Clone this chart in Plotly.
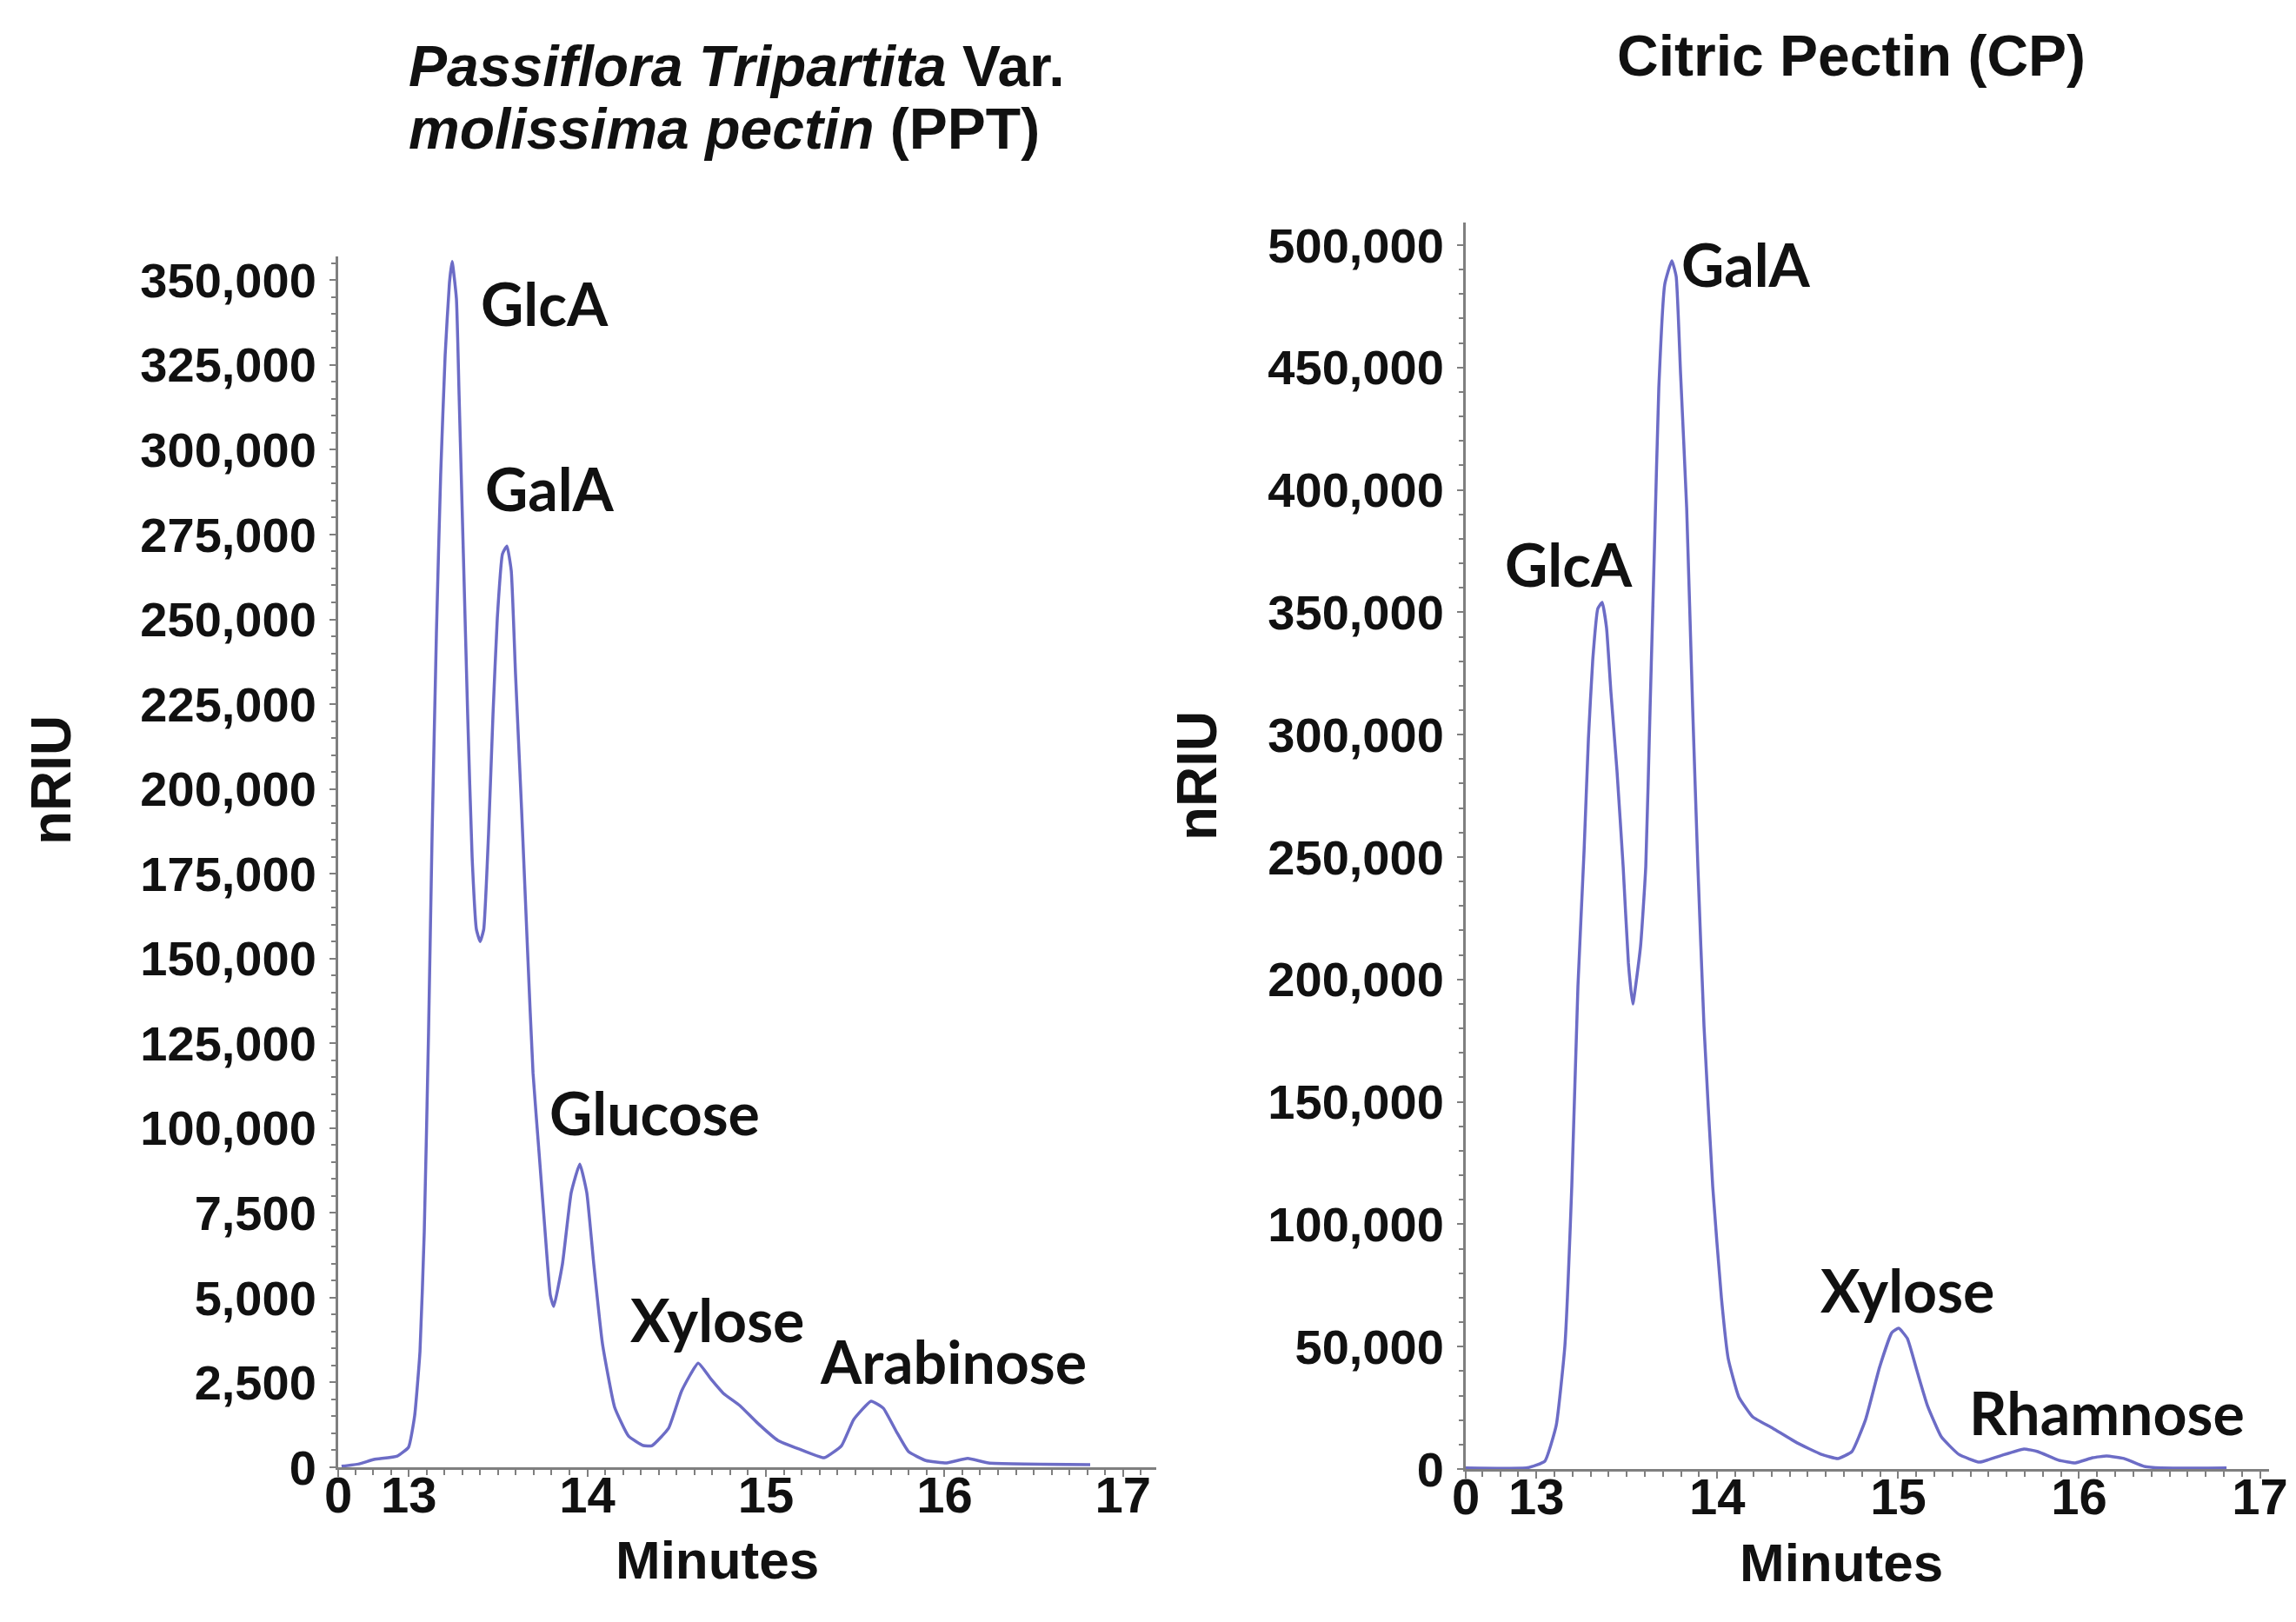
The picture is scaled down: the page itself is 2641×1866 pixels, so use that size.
import plotly.graph_objects as go

# ---------------- data ----------------
# Left panel: Passiflora Tripartita Var. molissima pectin (PPT)
ppt_minutes = [12.624, 12.722, 12.805, 12.936, 12.999, 13.033, 13.063, 13.087, 13.111, 13.131,
               13.155, 13.179, 13.204, 13.228, 13.243, 13.267, 13.282, 13.306, 13.330, 13.355,
               13.379, 13.400, 13.420, 13.447, 13.472, 13.496, 13.525, 13.550, 13.574, 13.598,
               13.632, 13.666, 13.696, 13.730, 13.764, 13.793, 13.812, 13.861, 13.910, 13.958,
               13.997, 14.036, 14.085, 14.153, 14.231, 14.314, 14.363, 14.455, 14.528, 14.621,
               14.694, 14.762, 14.854, 14.952, 15.068, 15.185, 15.326, 15.424, 15.492, 15.589,
               15.658, 15.731, 15.799, 15.896, 16.013, 16.130, 16.246, 16.816]
ppt_nriu = [300, 1000, 2300, 3300, 5900, 15100, 34100, 69400, 128100, 186800,
            245700, 292800, 327900, 349200, 355500, 344600, 316200, 269300, 222100, 179900,
            158600, 155000, 158600, 186800, 222100, 250300, 269300, 271600, 264400, 233900,
            194000, 151700, 116300, 92700, 69200, 50700, 47400, 60000, 81000, 89400,
            81000, 60000, 36400, 17700, 9200, 6400, 6400, 11500, 22500, 30700,
            25900, 21800, 18200, 13100, 7900, 5400, 2800, 6400, 14100, 19500,
            17400, 10500, 4600, 2000, 1300, 2600, 1300, 800]

# Right panel: Citric Pectin (CP)
cp_minutes = [12.610, 12.951, 13.047, 13.110, 13.158, 13.196, 13.230, 13.264, 13.288, 13.312,
              13.340, 13.364, 13.388, 13.412, 13.446, 13.480, 13.509, 13.533, 13.576, 13.605,
              13.629, 13.653, 13.677, 13.710, 13.749, 13.773, 13.797, 13.831, 13.864, 13.893,
              13.927, 13.975, 14.023, 14.061, 14.119, 14.196, 14.306, 14.441, 14.575, 14.667,
              14.744, 14.820, 14.897, 14.965, 15.003, 15.051, 15.104, 15.162, 15.239, 15.335,
              15.450, 15.561, 15.695, 15.772, 15.887, 15.979, 16.075, 16.152, 16.248, 16.358,
              16.454, 16.815]
cp_nriu = [400, 500, 3200, 17800, 50400, 115400, 197100, 252500, 298300, 330600,
           351500, 354000, 343700, 317800, 285100, 246100, 206700, 190000, 213400, 246100,
           311100, 376400, 441400, 484000, 493600, 487200, 448100, 392700, 311100, 246100,
           180700, 115400, 70000, 45000, 29500, 21300, 16700, 10700, 6000, 4300,
           7100, 20200, 41500, 55700, 57500, 53300, 40100, 25900, 13100, 6000,
           2800, 5300, 8200, 7100, 3600, 2500, 4600, 5300, 4300, 1100,
           400, 400]

# Axis ranges / ticks
ppt_x_range = [12.605, 17.186]
cp_x_range = [12.61, 17.05]
x_tick_text = ["0", "13", "14", "15", "16", "17"]
x_tick_minutes = [13, 14, 15, 16, 17]

ppt_y_range = [0, 357000]
ppt_y_tickvals = [0, 25000, 50000, 75000, 100000, 125000, 150000, 175000, 200000,
                  225000, 250000, 275000, 300000, 325000, 350000]
ppt_y_ticktext = ["0", "2,500", "5,000", "7,500", "100,000", "125,000", "150,000", "175,000",
                  "200,000", "225,000", "250,000", "275,000", "300,000", "325,000", "350,000"]

cp_y_range = [0, 509200]
cp_y_tickvals = [0, 50000, 100000, 150000, 200000, 250000, 300000, 350000, 400000, 450000, 500000]
cp_y_ticktext = ["0", "50,000", "100,000", "150,000", "200,000", "250,000", "300,000",
                 "350,000", "400,000", "450,000", "500,000"]

# Peak labels
ppt_peak_names = ["GlcA", "GalA", "Glucose", "Xylose", "Arabinose"]
ppt_peak_x = [13.759, 13.788, 14.377, 14.728, 16.047]
ppt_peak_y = [343200, 288600, 104600, 43800, 31300]

cp_peak_names = ["GlcA", "GalA", "Xylose", "Rhamnose"]
cp_peak_x = [13.177, 14.162, 15.051, 16.152]
cp_peak_y = [370000, 492500, 73200, 23100]

# ---------------- figure ----------------
W, H = 2641, 1866
OFF = 8  # page body margin compensation
LINE = "#6c6cc6"
AXIS = "#7f7f7f"
TICK_FONT = dict(family="Liberation Sans, Arial, sans-serif", size=56, color="#111111", weight="bold")
XTICK_FONT = dict(family="Liberation Sans Narrow, Arial Narrow, Liberation Sans, sans-serif",
                  size=58, color="#111111", weight="bold")
LABEL_FONT = dict(family="Lato, Carlito, Calibri, sans-serif", size=68, color="#111111", weight="bold")
TITLE_FONT = dict(family="Liberation Sans, Arial, sans-serif", size=66, color="#111111", weight="bold")
AX_TITLE_FONT = dict(family="Liberation Sans, Arial, sans-serif", size=64, color="#111111", weight="bold")
MIN_FONT = dict(family="Liberation Sans, Arial, sans-serif", size=62, color="#111111", weight="bold")


def px_x(a):
    return (a - OFF) / W


def px_y(b):
    return 1 - (b - OFF) / H


def dom_x(a, b):
    return [px_x(a), px_x(b)]


def dom_y(top, bottom):
    return [px_y(bottom), px_y(top)]


fig = go.Figure()
fig.add_trace(go.Scatter(x=ppt_minutes, y=ppt_nriu, mode="lines", xaxis="x", yaxis="y",
                         line=dict(color=LINE, width=3.5, shape="spline", smoothing=0.4),
                         showlegend=False, hoverinfo="x+y"))
fig.add_trace(go.Scatter(x=cp_minutes, y=cp_nriu, mode="lines", xaxis="x2", yaxis="y2",
                         line=dict(color=LINE, width=3.5, shape="spline", smoothing=0.4),
                         showlegend=False, hoverinfo="x+y"))


def xaxis_cfg(rng, domain, anchor):
    return dict(domain=domain, range=rng, anchor=anchor, showgrid=False, zeroline=False,
                automargin=False,
                showline=True, linecolor=AXIS, linewidth=3,
                tickmode="array", tickvals=[rng[0]] + x_tick_minutes, ticktext=x_tick_text,
                ticks="outside", ticklen=8, tickwidth=2, tickcolor=AXIS,
                tickfont=XTICK_FONT, ticklabelstandoff=-29,
                minor=dict(tickmode="linear", tick0=13, dtick=0.1, ticks="outside",
                           ticklen=6, tickwidth=2, tickcolor=AXIS, showgrid=False))


def yaxis_cfg(rng, domain, anchor, tv, tt, minor_dt):
    return dict(domain=domain, range=rng, anchor=anchor, showgrid=False, zeroline=False,
                automargin=False,
                showline=True, linecolor=AXIS, linewidth=3,
                tickmode="array", tickvals=tv, ticktext=tt,
                ticks="outside", ticklen=7, tickwidth=2, tickcolor=AXIS,
                tickfont=TICK_FONT, ticklabelstandoff=4,
                minor=dict(tickmode="linear", tick0=0, dtick=minor_dt, ticks="outside",
                           ticklen=5, tickwidth=1.5, tickcolor=AXIS, showgrid=False))


fig.update_layout(
    width=W, height=H,
    margin=dict(l=0, r=0, t=0, b=0, pad=0, autoexpand=False),
    paper_bgcolor="white", plot_bgcolor="white",
    xaxis=xaxis_cfg(ppt_x_range, dom_x(389, 1330), "y"),
    yaxis=yaxis_cfg(ppt_y_range, dom_y(295, 1688), "x", ppt_y_tickvals, ppt_y_ticktext, 5000),
    xaxis2=xaxis_cfg(cp_x_range, dom_x(1686, 2610), "y2"),
    yaxis2=yaxis_cfg(cp_y_range, dom_y(256, 1690), "x2", cp_y_tickvals, cp_y_ticktext, 10000),
)

annotations = []
for name, x, y in zip(ppt_peak_names, ppt_peak_x, ppt_peak_y):
    annotations.append(dict(text=name, x=x, y=y, xref="x", yref="y", showarrow=False,
                            xanchor="center", yanchor="middle", font=LABEL_FONT))
for name, x, y in zip(cp_peak_names, cp_peak_x, cp_peak_y):
    annotations.append(dict(text=name, x=x, y=y, xref="x2", yref="y2", showarrow=False,
                            xanchor="center", yanchor="middle", font=LABEL_FONT))

# Titles
annotations.append(dict(text="<i>Passiflora Tripartita</i> Var.", x=px_x(468), y=px_y(76),
                        xref="paper", yref="paper", showarrow=False, xanchor="left",
                        yanchor="middle", font=TITLE_FONT))
annotations.append(dict(text="<i>molissima pectin</i> (PPT)", x=px_x(468), y=px_y(148),
                        xref="paper", yref="paper", showarrow=False, xanchor="left",
                        yanchor="middle", font=TITLE_FONT))
annotations.append(dict(text="Citric Pectin (CP)", x=px_x(2129), y=px_y(64),
                        xref="paper", yref="paper", showarrow=False, xanchor="center",
                        yanchor="middle", font=TITLE_FONT))

# Axis titles
for (x, y) in [(59, 898), (1377, 893)]:
    annotations.append(dict(text="nRIU", x=px_x(x), y=px_y(y), xref="paper", yref="paper",
                            showarrow=False, textangle=-90, xanchor="center", yanchor="middle",
                            font=AX_TITLE_FONT))
for (x, y) in [(825, 1794), (2118, 1797)]:
    annotations.append(dict(text="Minutes", x=px_x(x), y=px_y(y), xref="paper", yref="paper",
                            showarrow=False, xanchor="center", yanchor="middle",
                            font=MIN_FONT))

fig.update_layout(annotations=annotations)
fig.write_html("out.html")
